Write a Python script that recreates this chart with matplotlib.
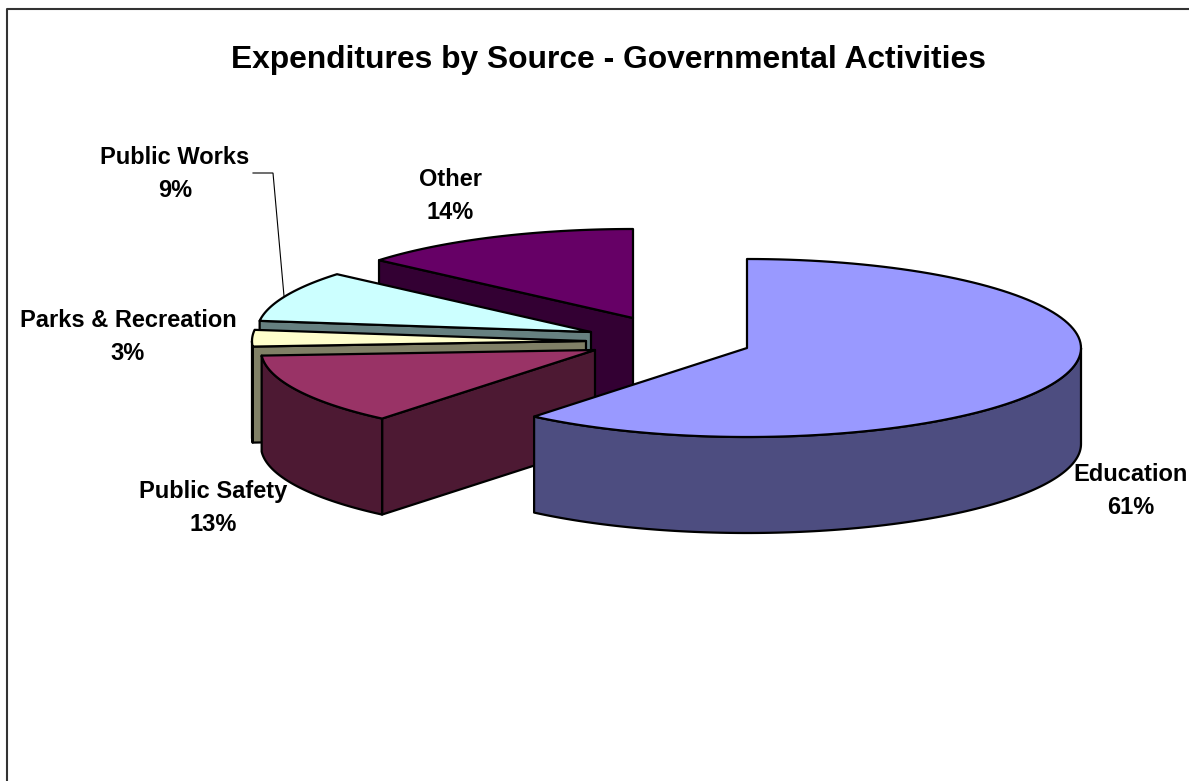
import numpy as np
import matplotlib
matplotlib.use("Agg")
import matplotlib.pyplot as plt
from matplotlib.patches import Polygon

# --- data ---
categories = ["Education", "Public Safety", "Parks & Recreation", "Public Works", "Other"]
shares = [61.0, 13.0, 3.0, 9.25, 13.75]

# --- layout / style (pixels, y down) ---
W, H = 1189, 781
apexes = [(747, 348), (595, 350), (586, 341), (591, 332), (633, 318)]
RX, RY, DEPTH = 334, 89, 96
top_colors = ["#9999FF", "#993366", "#FFFFCC", "#CCFFFF", "#660066"]
side_colors = ["#4D4D80", "#4D1933", "#808066", "#668080", "#330033"]
label_xy = [(1131, 491), (213, 508), (128, 337), (175, 174), (450, 196)]
LW = 1.6

fig = plt.figure(figsize=(W / 100, H / 100), dpi=100, facecolor="white")
ax = fig.add_axes([0, 0, 1, 1])
ax.set_xlim(0, W)
ax.set_ylim(H, 0)
ax.axis("off")
plt.rcParams["font.family"] = ["Liberation Sans", "DejaVu Sans"]


def rim(apex, t0, t1):
    t = np.radians(np.linspace(t0, t1, 120))
    return np.column_stack([apex[0] + RX * np.sin(t), apex[1] - RY * np.cos(t)])


def poly(pts, color, z):
    ax.add_patch(Polygon(pts, closed=True, facecolor=color, edgecolor="black",
                         linewidth=LW, joinstyle="round", zorder=z))


edges = np.concatenate([[0], np.cumsum(shares)]) * 360 / sum(shares)

# back-to-front: last slice first
for z, i in zip(range(len(shares)), [4, 3, 2, 1, 0]):
    apex = np.array(apexes[i], float)
    t0, t1 = edges[i], edges[i + 1]
    base = z * 10 + 1
    down = np.array([0, DEPTH])
    # radial wall that faces the viewer
    if t0 >= 90:
        p = rim(apex, t0, t0)[0]
        poly([apex, p, p + down, apex + down], side_colors[i], base)
    # outer rim for the front half
    a, b = max(t0, 90), min(t1, 270)
    if a < b:
        arc = rim(apex, a, b)
        poly(np.vstack([arc, arc[::-1] + down]), side_colors[i], base + 1)
    # top face
    poly(np.vstack([[apex], rim(apex, t0, t1)]), top_colors[i], base + 2)

# leader line for Public Works
ax.plot([253, 273, 284], [173, 173, 296], color="black", lw=0.8, zorder=100,
        solid_joinstyle="miter")

# labels
for name, val, (x, y) in zip(categories, shares, label_xy):
    ax.text(x, y, f"{name}\n{round(val)}%", ha="center", va="center", multialignment="center",
            fontsize=17, fontweight="bold", color="black", linespacing=1.54, zorder=101)

ax.text(608.5, 60, "Expenditures by Source - Governmental Activities", ha="center", va="center",
        fontsize=22.9, fontweight="bold", color="black", zorder=101)

# chart frame
ax.plot([7, 7, W + 5], [H + 5, 9, 9], color="#333333", lw=1.5, clip_on=True, zorder=102)

fig.savefig("out.png", dpi=100, facecolor="white")
